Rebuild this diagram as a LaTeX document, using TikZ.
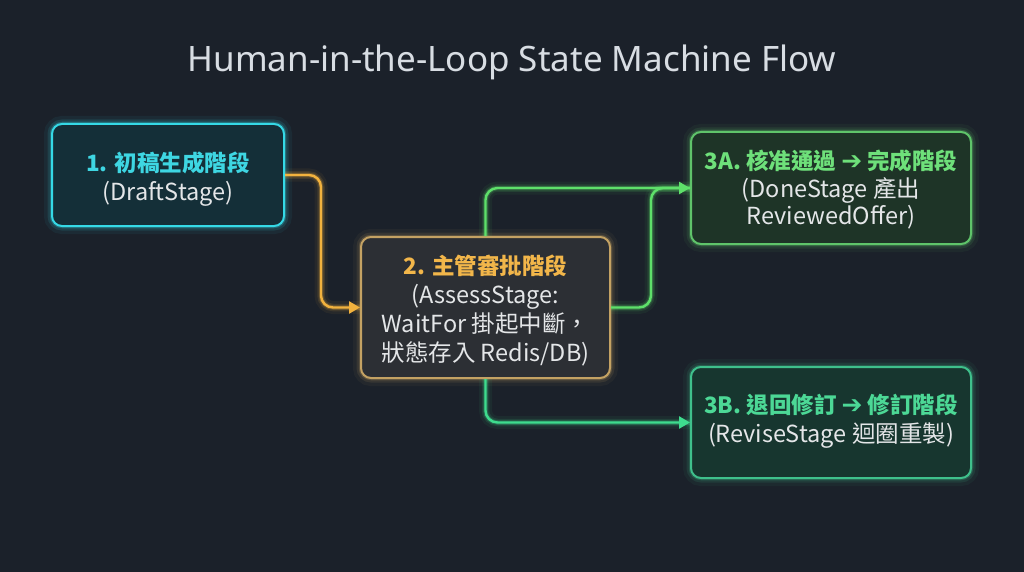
\documentclass[tikz,border=0pt]{standalone}
\usepackage{fontspec}
\setmainfont{Noto Sans CJK TC}
\newfontfamily\sym{DejaVu Sans}
\newfontfamily\titlefont{Noto Sans}
\usetikzlibrary{arrows.meta}
\definecolor{bg}{HTML}{1B212A}
\definecolor{cyanC}{HTML}{35D9E6}
\definecolor{cyanT}{HTML}{3ED6E2}
\definecolor{orangeC}{HTML}{F2B23E}
\definecolor{orangeT}{HTML}{F2B64A}
\definecolor{greenC}{HTML}{5EE06A}
\definecolor{greenT}{HTML}{6EE07A}
\definecolor{tealC}{HTML}{3EDC8E}
\definecolor{tealT}{HTML}{4CD896}
\definecolor{txt}{HTML}{E4E6E8}
\definecolor{titleC}{HTML}{D8DDE3}
\definecolor{draftF}{HTML}{142F38}
\definecolor{assessF}{HTML}{2C2F34}
\definecolor{assessB}{HTML}{C4A263}
\definecolor{doneF}{HTML}{1E3427}
\definecolor{doneB}{HTML}{5FC46A}
\definecolor{reviseF}{HTML}{17362F}
\definecolor{reviseB}{HTML}{3FC08C}
\tikzset{
  glowbox/.style={draw=#1, line width=2pt, rounded corners=10pt,
    preaction={draw=#1, line width=16pt, opacity=0.06},
    preaction={draw=#1, line width=9pt, opacity=0.12},
    preaction={draw=#1, line width=4.5pt, opacity=0.25}},
  glowline/.style={draw=#1, line width=2.4pt, rounded corners=12pt,
    -{Triangle[length=11pt,width=12pt]}, fill=none,
    preaction={draw=#1, -, line width=13pt, opacity=0.06},
    preaction={draw=#1, -, line width=7.5pt, opacity=0.12},
    preaction={draw=#1, -, line width=4.5pt, opacity=0.25}},
  plainline/.style={draw=#1, line width=2.4pt, rounded corners=12pt,
    preaction={draw=#1, line width=13pt, opacity=0.06},
    preaction={draw=#1, line width=7.5pt, opacity=0.12},
    preaction={draw=#1, line width=4.5pt, opacity=0.25}},
  boxtext/.style={align=center, text=txt, font=\fontsize{23.5}{29}\selectfont},
}
\newcommand{\hd}{\fontsize{22.5}{29}\selectfont\bfseries}
\newcommand{\rarr}{{\sym\bfseries\fontsize{25}{29}\selectfont ➔}}
\begin{document}
\begin{tikzpicture}[x=1pt,y=-1pt]
\fill[bg] (0,0) rectangle (1024,572);
\useasboundingbox (0,0) rectangle (1024,572);

\node[text=titleC, font=\titlefont\fontsize{35}{40}\selectfont] (title) at (512,62) {Human-in-the-Loop State Machine Flow};

% boxes
\node[glowbox=cyanC, fill=draftF, minimum width=232pt, minimum height=102pt] (draft) at (168,175) {};
\node[glowbox=assessB, fill=assessF, minimum width=249pt, minimum height=141pt] (assess) at (485.5,307.5) {};
\node[glowbox=doneB, fill=doneF, minimum width=280pt, minimum height=112pt] (done) at (831,188) {};
\node[glowbox=reviseB, fill=reviseF, minimum width=280pt, minimum height=111pt] (revise) at (831,422.5) {};

% texts
\node[boxtext] (draftT) at (168,179.5)
  {{\hd\color{cyanT}1. 初稿生成階段}\\(DraftStage)};
\node[boxtext] (assessT) at (485.5,310.5)
  {{\hd\color{orangeT}2. 主管審批階段}\\(AssessStage:\\WaitFor 掛起中斷，\\狀態存入 Redis/DB)};
\node[boxtext] (doneT) at (831,189)
  {{\hd\color{greenT}3A. 核准通過 \rarr{} 完成階段}\\[-1pt](DoneStage 產出\\[-2pt]ReviewedOffer)};
\node[boxtext] (reviseT) at (831,421.5)
  {{\hd\color{tealT}3B. 退回修訂 \rarr{} 修訂階段}\\(ReviseStage 迴圈重製)};

% connectors
\draw[glowline=orangeC] (draft.east) -- ++(36,0) |- (assess.west);
\draw[plainline=greenC] (assess.east) -- ++(40,0) |- (done.west);
\draw[glowline=greenC] (assess.north) |- (done.west);
\draw[glowline=tealC] (assess.south) |- (revise.west);
\end{tikzpicture}
\end{document}
